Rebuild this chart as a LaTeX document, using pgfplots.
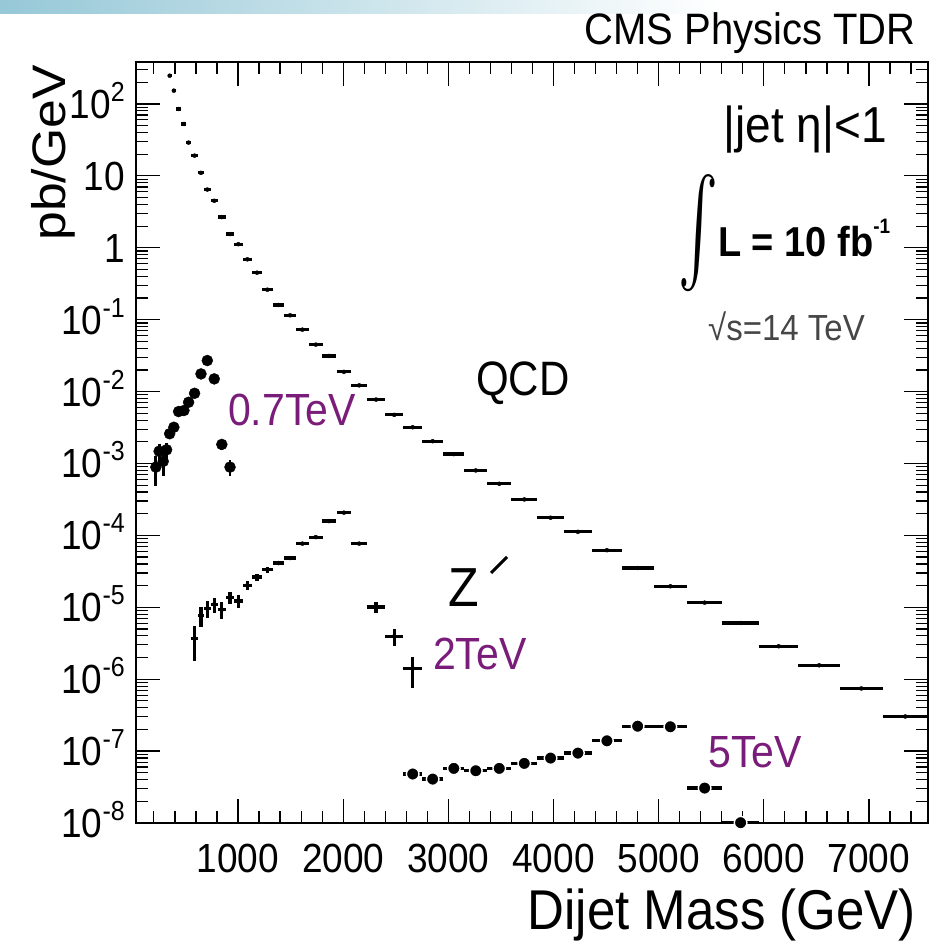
\documentclass[border=0pt]{standalone}
\usepackage{fontspec}
\setmainfont{Liberation Sans}
\usepackage{graphicx}
\usepackage{pgfplots}
\pgfplotsset{compat=1.18}
\definecolor{zpurple}{RGB}{122,28,122}
\definecolor{sgray}{RGB}{70,70,70}
\definecolor{banner}{RGB}{150,200,215}
\newcommand{\fs}[1]{\fontsize{#1}{#1}\selectfont}
\newcommand{\ys}[1]{\scalebox{1}[1.1]{#1}}
\newcommand{\sups}[1]{\raisebox{15.5pt}{\fs{25}#1}}
\begin{document}
\begin{tikzpicture}[x=1pt,y=1pt]
\useasboundingbox (0pt,0pt) rectangle (941pt,943pt);
\shade[left color=banner, right color=white] (0pt,929pt) rectangle (720pt,943pt);
\begin{axis}[
  at={(136pt,120pt)}, anchor=south west,
  width=792pt, height=761pt, scale only axis,
  xmin=30, xmax=7561,
  ymode=log, ymin=1e-8, ymax=383,
  xtick={1000,2000,3000,4000,5000,6000,7000},
  xticklabels={\ys{1000},\ys{2000},\ys{3000},\ys{4000},\ys{5000},\ys{6000},\ys{7000}},
  minor xtick={200,400,600,800,1200,1400,1600,1800,2200,2400,2600,2800,3200,3400,3600,3800,4200,4400,4600,4800,5200,5400,5600,5800,6200,6400,6600,6800,7200,7400},
  ytick={1e-8,1e-7,1e-6,1e-5,1e-4,1e-3,1e-2,1e-1,1,10,100},
  yticklabels={\ys{10\sups{-8}},\ys{10\sups{-7}},\ys{10\sups{-6}},\ys{10\sups{-5}},\ys{10\sups{-4}},\ys{10\sups{-3}},\ys{10\sups{-2}},\ys{10\sups{-1}},\ys{1},\ys{10},\ys{10\sups{2}}},
  minor ytick={2e-8,3e-8,4e-8,5e-8,6e-8,7e-8,8e-8,9e-8,
    2e-7,3e-7,4e-7,5e-7,6e-7,7e-7,8e-7,9e-7,
    2e-6,3e-6,4e-6,5e-6,6e-6,7e-6,8e-6,9e-6,
    2e-5,3e-5,4e-5,5e-5,6e-5,7e-5,8e-5,9e-5,
    2e-4,3e-4,4e-4,5e-4,6e-4,7e-4,8e-4,9e-4,
    2e-3,3e-3,4e-3,5e-3,6e-3,7e-3,8e-3,9e-3,
    2e-2,3e-2,4e-2,5e-2,6e-2,7e-2,8e-2,9e-2,
    0.2,0.3,0.4,0.5,0.6,0.7,0.8,0.9,
    2,3,4,5,6,7,8,9,
    20,30,40,50,60,70,80,90,200,300},
  ticklabel style={font={\fs{37}}, inner sep=0pt},
  xticklabel style={anchor=base, yshift=-49pt},
  yticklabel style={anchor=base east, xshift=-11pt, yshift=-14.5pt},
  major tick length=24pt, minor tick length=12pt,
  every tick/.style={line width=1.2pt, black},
  axis line style={line width=1.6pt},
]
% QCD
\addplot[only marks, mark=none, black,
  error bars/.cd, x dir=both, x explicit, error mark=none,
  error bar style={line width=3.2pt, black}]
coordinates {
(350,247) +- (20,0)
(390,153) +- (22,0)
(435,85) +- (24,0)
(486,52.7) +- (24,0)
(530,29) +- (26,0)
(587,19.1) +- (30,0)
(648,11.0) +- (30,0)
(708,6.45) +- (32,0)
(774,4.5) +- (34,0)
(846,2.67) +- (37,0)
(924,1.55) +- (39,0)
(1003,1.12) +- (41,0)
(1089,0.69) +- (44,0)
(1181,0.45) +- (48,0)
(1279,0.261) +- (51,0)
(1385,0.16) +- (54,0)
(1495,0.115) +- (57,0)
(1612,0.0726) +- (61,0)
(1740,0.045) +- (64,0)
(1865,0.0313) +- (67,0)
(2007,0.0188) +- (67,0)
(2152,0.0122) +- (78,0)
(2313,7.74e-3) +- (82,0)
(2485,4.74e-3) +- (84,0)
(2661,3.19e-3) +- (91,0)
(2851,2.04e-3) +- (99,0)
(3052,1.35e-3) +- (101,0)
(3261,8.0e-4) +- (108,0)
(3484,5.22e-4) +- (115,0)
(3722,3.16e-4) +- (124,0)
(3972,1.76e-4) +- (126,0)
(4232,1.12e-4) +- (135,0)
(4508,6.22e-5) +- (141,0)
(4800,3.52e-5) +- (152,0)
(5111,1.96e-5) +- (159,0)
(5437,1.16e-5) +- (167,0)
(5779,6.05e-6) +- (176,0)
(6141,2.87e-6) +- (186,0)
(6526,1.56e-6) +- (199,0)
(6927,7.43e-7) +- (203,0)
(7345,3.03e-7) +- (215,0)
};
% Z' 0.7 TeV
\addplot[only marks, mark=*, mark size=5.5pt, black,
  error bars/.cd, y dir=both, y explicit, error mark=none,
  error bar style={line width=2.8pt, black}]
coordinates {
(219,8.9e-4) +- (0,4e-4)
(250,1.48e-3) +- (0,4e-4)
(289,1.07e-3) +- (0,4e-4)
(321,1.55e-3) +- (0,4e-4)
(350,2.59e-3) +- (0,4e-4)
(390,3.19e-3) +- (0,4e-4)
(435,5.27e-3) +- (0,4e-4)
(486,5.45e-3) +- (0,4e-4)
(530,7.1e-3) +- (0,5e-4)
(587,9.46e-3) +- (0,5e-4)
(648,1.76e-2) +- (0,6e-4)
(708,2.7e-2) +- (0,7e-4)
(774,1.5e-2) +- (0,6e-4)
(846,1.84e-3) +- (0,3e-4)
(924,8.9e-4) +- (0,2.2e-4)
};
% Z' 2 TeV
\addplot[only marks, mark=none, black,
  error bars/.cd, x dir=both, x explicit, y dir=both, y explicit, error mark=none,
  error bar style={line width=3.2pt, black}]
coordinates {
(587,3.67e-6) +- (30,1.9e-6)
(648,7.74e-6) +- (30,2.4e-6)
(708,9.6e-6) +- (32,2.6e-6)
(774,1.10e-5) +- (34,2.6e-6)
(846,9.3e-6) +- (37,2.4e-6)
(924,1.36e-5) +- (39,2.5e-6)
(1003,1.22e-5) +- (41,2.5e-6)
(1089,2.02e-5) +- (44,3e-6)
(1181,2.64e-5) +- (48,3e-6)
(1279,3.34e-5) +- (51,3e-6)
(1385,4.12e-5) +- (54,3e-6)
(1495,4.84e-5) +- (57,3e-6)
(1612,7.68e-5) +- (61,3e-6)
(1740,9.46e-5) +- (64,3e-6)
(1865,1.58e-4) +- (67,4e-6)
(2007,2.07e-4) +- (67,4e-6)
(2152,7.68e-5) +- (78,3e-6)
(2313,1.01e-5) +- (82,1.7e-6)
(2485,3.95e-6) +- (84,1.1e-6)
(2661,1.41e-6) +- (91,6.5e-7)
};
% Z' 5 TeV
\addplot[only marks, mark=*, mark size=6.3pt, black,
  mark options={fill=black, draw=white, line width=1.4pt},
  error bars/.cd, x dir=both, x explicit, error mark=none,
  error bar style={line width=3.2pt, black}]
coordinates {
(2661,4.8e-8) +- (91,0)
(2851,4.08e-8) +- (99,0)
(3052,5.75e-8) +- (101,0)
(3261,5.33e-8) +- (108,0)
(3484,5.75e-8) +- (115,0)
(3722,6.75e-8) +- (124,0)
(3972,8.0e-8) +- (126,0)
(4232,9.38e-8) +- (135,0)
(4508,1.39e-7) +- (141,0)
(4800,2.22e-7) +- (152,0)
(5111,2.18e-7) +- (159,0)
(5437,3.06e-8) +- (167,0)
(5779,1.01e-8) +- (176,0)
};
\end{axis}
\node[anchor=base east, inner sep=0pt, font={\fs{40}}] at (916pt,898pt) {\ys{CMS Physics TDR}};
\node[rotate=90, anchor=base east, inner sep=0pt, font={\fs{47}}] at (65pt,878pt) {\scalebox{1.1}[1]{pb/GeV}};
\node[anchor=base east, inner sep=0pt, font={\fs{51}}] at (916pt,13pt) {\ys{Dijet Mass (GeV)}};
\node[anchor=base east, inner sep=0pt, font={\fs{46}}] at (887pt,800pt) {\ys{|jet η|<1}};
\node[anchor=south west, inner sep=0pt] at (678pt,651pt) {\resizebox{40pt}{85pt}{$\int$}};
\node[anchor=base west, inner sep=0pt, font={\fs{38}\bfseries}] at (718pt,686pt) {\ys{L = 10 fb\raisebox{21pt}{\fs{19}-1}}};
\node[anchor=base west, inner sep=0pt, font={\fs{33}}, text=sgray] at (708pt,602pt) {\ys{√s=14 TeV}};
\node[anchor=base west, inner sep=0pt, font={\fs{42}}] at (476pt,547pt) {\scalebox{1}[1.15]{QCD}};
\node[anchor=base west, inner sep=0pt, font={\fs{41}}, text=zpurple] at (228pt,517pt) {\ys{0.7TeV}};
\node[anchor=base west, inner sep=0pt, font={\fs{50}}] at (448pt,336pt) {\ys{Z}};
\draw[line width=3pt] (491pt,370pt) -- (507pt,386pt);
\node[anchor=base west, inner sep=0pt, font={\fs{41}}, text=zpurple] at (433pt,273pt) {\ys{2TeV}};
\node[anchor=base west, inner sep=0pt, font={\fs{41}}, text=zpurple] at (708pt,175pt) {\ys{5TeV}};
\end{tikzpicture}
\end{document}
